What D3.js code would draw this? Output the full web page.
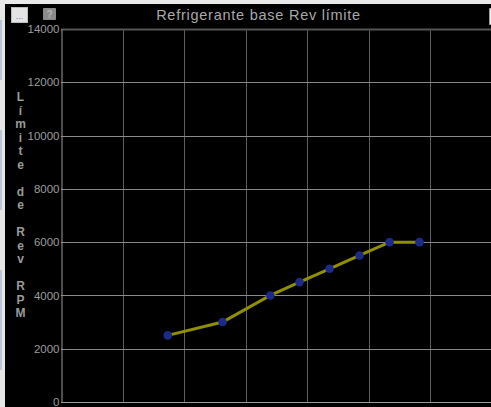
<!DOCTYPE html>
<html>
<head>
<meta charset="utf-8">
<script src="https://cdn.jsdelivr.net/npm/d3@7"></script>
<style>
  html, body { margin: 0; padding: 0; background: #000; overflow: hidden; }
  svg { display: block; font-family: "Liberation Sans", Arial, sans-serif; }
</style>
</head>
<body>
<div id="chart"></div>
<script>
// Refrigerante base Rev límite — rev limit vs coolant temp, dark gauge style.

const title = "Refrigerante base Rev límite";
const yLabel = "Límite de Rev RPM";
const yTicks = [0, 2000, 4000, 6000, 8000, 10000, 12000, 14000];
const xTicks = [0, 20, 40, 60, 80, 100, 120, 140, 160];
const tempVals = [34.7, 52.5, 68, 77.5, 87.25, 97, 106.75, 116.5];
const rpmVals = [2500, 3000, 4000, 4500, 5000, 5500, 6000, 6000];

const W = 491, H = 407;
const margin = { top: 29, left: 61, bottom: 5 };

const svg = d3.select("#chart").append("svg")
  .attr("width", W).attr("height", H);

// window chrome
svg.append("rect").attr("width", W).attr("height", H).attr("fill", "#000");
svg.append("rect").attr("x", 0).attr("y", 0).attr("width", W).attr("height", 4).attr("fill", "#e9e9e9");
svg.append("rect").attr("x", 0).attr("y", 0).attr("width", 5).attr("height", H).attr("fill", "#e6e6e6");
[[0, 60], [110, 40], [150, 40], [250, 60], [310, 40]].forEach(([y, h]) =>
  svg.append("rect").attr("x", 0).attr("y", y + 20).attr("width", 2).attr("height", h).attr("fill", "#b8c6d8"));

// buttons
svg.append("rect").attr("x", 11.5).attr("y", 7.5).attr("width", 16).attr("height", 15)
  .attr("fill", "#e4e4e4").attr("stroke", "#bbb");
svg.append("text").attr("x", 19.5).attr("y", 19).attr("text-anchor", "middle")
  .attr("font-size", 9).attr("fill", "#6a7fb0").text("...");
svg.append("rect").attr("x", 43).attr("y", 8).attr("width", 13).attr("height", 12).attr("rx", 1)
  .attr("fill", "#8a8a8a");
svg.append("text").attr("x", 49.5).attr("y", 18).attr("text-anchor", "middle")
  .attr("font-size", 10).attr("font-weight", "bold").attr("fill", "#b5b5b5").text("?");
svg.append("rect").attr("x", 489.5).attr("y", 8.5).attr("width", 6).attr("height", 16)
  .attr("fill", "#f4f4f4").attr("stroke", "#999");

// title
svg.append("text").attr("x", 258.5).attr("y", 20).attr("text-anchor", "middle")
  .attr("font-size", 14.5).attr("letter-spacing", 0.75).attr("fill", "#a8a8a8").text(title);

const x = d3.scaleLinear().domain([0, 160]).range([margin.left, 553.4]);
const y = d3.scaleLinear().domain([0, 14000]).range([H - margin.bottom, margin.top]);

const g = svg.append("g");

// grid
g.selectAll("line.vg").data(xTicks.slice(1)).join("line").attr("class", "vg")
  .attr("x1", d => Math.round(x(d)) + 0.5).attr("x2", d => Math.round(x(d)) + 0.5)
  .attr("y1", y(14000)).attr("y2", y(0))
  .attr("stroke", "#5e5e5e").attr("stroke-width", 1);
g.selectAll("line.hg").data(yTicks.slice(1)).join("line").attr("class", "hg")
  .attr("x1", x(0)).attr("x2", W)
  .attr("y1", d => Math.round(y(d)) + 0.5).attr("y2", d => Math.round(y(d)) + 0.5)
  .attr("stroke", d => d === 14000 ? "#555" : "#8a8a8a")
  .attr("stroke-width", d => d === 14000 ? 2 : 1);

// axes
const yAxis = g.append("g").attr("transform", `translate(${Math.round(x(0)) + 0.5},0)`)
  .call(d3.axisLeft(y).tickValues(yTicks).tickSize(0).tickPadding(2).tickFormat(d3.format("d")));
yAxis.select(".domain").attr("stroke", "#9a9a9a");
yAxis.selectAll("text").attr("fill", "#9c9c9c").attr("font-size", 11.5)
  .attr("font-family", "Liberation Sans, Arial, sans-serif");
g.append("line").attr("x1", x(0)).attr("x2", W)
  .attr("y1", Math.round(y(0)) + 0.5).attr("y2", Math.round(y(0)) + 0.5)
  .attr("stroke", "#9a9a9a");

// vertical y label, one character per line
const chars = Array.from(yLabel);
svg.append("g").selectAll("text").data(chars).join("text")
  .attr("x", 20.5).attr("y", (d, i) => 101 + i * 13.5)
  .attr("text-anchor", "middle").attr("font-size", 12).attr("font-weight", "bold")
  .attr("fill", "#9a9a9a").text(d => d);

// series
const pts = tempVals.map((t, i) => [t, rpmVals[i]]);
g.append("path").datum(pts)
  .attr("fill", "none").attr("stroke", "#8f8f00").attr("stroke-width", 3)
  .attr("d", d3.line().x(d => x(d[0])).y(d => y(d[1])));
g.selectAll("circle").data(pts).join("circle")
  .attr("cx", d => x(d[0])).attr("cy", d => y(d[1])).attr("r", 4.3)
  .attr("fill", "#1e2a8a");
</script>
</body>
</html>
